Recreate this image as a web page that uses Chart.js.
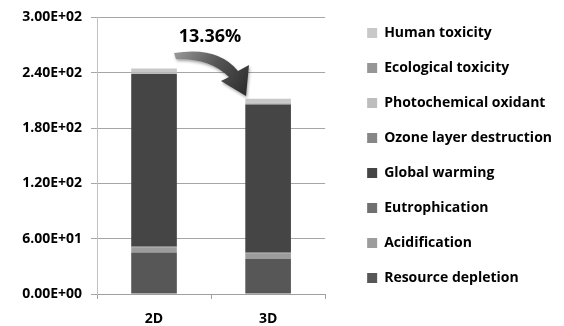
<!DOCTYPE html>
<html>
<head>
<meta charset="utf-8">
<script src="https://cdn.jsdelivr.net/npm/chart.js@4.4.0/dist/chart.umd.min.js"></script>
<style>
  html, body { margin: 0; padding: 0; background: #fff; }
  #wrap { width: 564px; height: 326px; }
</style>
</head>
<body>
<div id="wrap"><canvas id="chart"></canvas></div>
<script>
// data (stack order bottom -> top)
const categories = ['2D', '3D'];
const resourceDepletion = [45, 38];
const acidification = [5.5, 6];
const eutrophication = [1, 1.1];
const globalWarming = [187, 160.5];
const ozoneLayer = [0.1, 0.1];
const photochemical = [1.8, 1.6];
const ecologicalTox = [0.4, 0.4];
const humanTox = [3.8, 4];
const yTicks = [0, 60, 120, 180, 240, 300];
const reductionLabel = '13.36%';

const FONT = '"Open Sans", Lato, sans-serif';

function sci(v) {
  if (v === 0) return '0.00E+00';
  const e = Math.floor(Math.log10(Math.abs(v)));
  const m = v / Math.pow(10, e);
  return m.toFixed(2) + 'E' + (e < 0 ? '-' : '+') + String(Math.abs(e)).padStart(2, '0');
}

const ds = (label, data, color) => ({ label, data, backgroundColor: color, borderWidth: 0, stack: 's' });

// curved arrow + percentage between the bars
const arrowPlugin = {
  id: 'arrow',
  afterDatasetsDraw(chart) {
    const ctx = chart.ctx;
    ctx.save();
    ctx.shadowColor = 'rgba(0,0,0,0.35)';
    ctx.shadowBlur = 3;
    ctx.shadowOffsetX = 1;
    ctx.shadowOffsetY = 2;
    const g = ctx.createLinearGradient(175, 50, 245, 95);
    g.addColorStop(0, '#9a9a9a');
    g.addColorStop(0.5, '#555');
    g.addColorStop(1, '#2e2e2e');
    ctx.fillStyle = g;
    ctx.beginPath();
    ctx.moveTo(174, 53);
    ctx.quadraticCurveTo(218, 46, 238, 71);
    ctx.lineTo(249, 65);
    ctx.lineTo(246, 96);
    ctx.lineTo(221, 81);
    ctx.lineTo(229, 77);
    ctx.quadraticCurveTo(210, 58, 176, 59);
    ctx.closePath();
    ctx.fill();
    ctx.restore();

    ctx.save();
    ctx.font = 'bold 18px ' + FONT;
    ctx.fillStyle = '#000';
    ctx.textAlign = 'center';
    ctx.textBaseline = 'middle';
    ctx.fillText(reductionLabel, 210, 37);
    ctx.restore();
  }
};

new Chart(document.getElementById('chart'), {
  type: 'bar',
  data: {
    labels: categories,
    datasets: [
      ds('Resource depletion', resourceDepletion, '#575757'),
      ds('Acidification', acidification, '#9c9c9c'),
      ds('Eutrophication', eutrophication, '#707070'),
      ds('Global warming', globalWarming, '#454545'),
      ds('Ozone layer destruction', ozoneLayer, '#868686'),
      ds('Photochemical oxidant', photochemical, '#bdbdbd'),
      ds('Ecological toxicity', ecologicalTox, '#969696'),
      ds('Human toxicity', humanTox, '#c8c8c8')
    ]
  },
  options: {
    responsive: true,
    maintainAspectRatio: false,
    animation: false,
    datasets: { bar: { categoryPercentage: 1, barPercentage: 0.4 } },
    layout: { padding: { top: 5, right: 2, bottom: 0, left: 0 } },
    plugins: {
      tooltip: { enabled: false },
      legend: {
        position: 'right',
        align: 'start',
        reverse: true,
        maxWidth: 260,
        labels: {
          boxWidth: 10,
          boxHeight: 10,
          padding: 21,
          color: '#000',
          font: { family: FONT, size: 14, weight: 'bold' }
        }
      }
    },
    scales: {
      x: {
        stacked: true,
        afterFit: s => { s.height = 32; },
        grid: { display: true, drawOnChartArea: false, offset: true, tickLength: 5, color: '#a0a0a0' },
        border: { color: '#a0a0a0' },
        ticks: { color: '#000', padding: 12, font: { family: FONT, size: 14, weight: 'bold' } }
      },
      y: {
        stacked: true,
        min: 0,
        max: 300,
        afterFit: s => { s.width = 97; },
        afterBuildTicks: s => { s.ticks = yTicks.map(v => ({ value: v })); },
        grid: { color: '#a6a6a6', tickLength: 6 },
        border: { color: '#c0c0c0' },
        ticks: { color: '#000', padding: 9, callback: v => sci(v), font: { family: FONT, size: 14, weight: 'bold' } }
      },
      gap: {
        type: 'linear',
        position: 'right',
        display: true,
        afterFit: s => { s.width = 21; },
        grid: { display: false },
        border: { display: false },
        ticks: { display: false }
      }
    }
  },
  plugins: [arrowPlugin]
});
</script>
</body>
</html>
